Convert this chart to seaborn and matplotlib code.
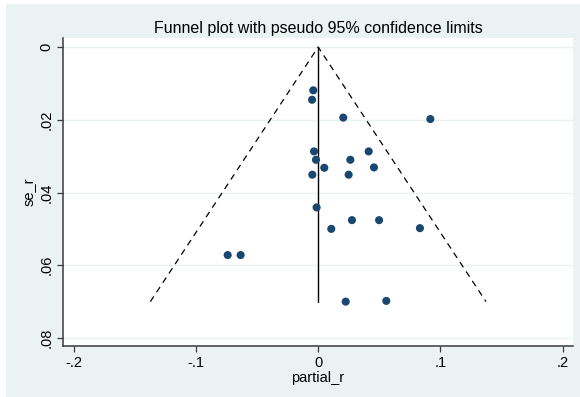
import matplotlib
matplotlib.use("Agg")
import matplotlib.pyplot as plt
from matplotlib.patches import Rectangle
import numpy as np
import pandas as pd
import seaborn as sns

# Study-level effect sizes (partial correlations) and their standard errors
partial_r = [-0.0040, -0.0050, 0.0205, 0.0917, -0.0034, 0.0413, -0.0018, 0.0263,
             0.0050, 0.0456, -0.0048, 0.0249, -0.0013, 0.0276, 0.0498, 0.0107,
             0.0832, -0.0740, -0.0634, 0.0225, 0.0557]
se_r = [0.0119, 0.0145, 0.0194, 0.0198, 0.0287, 0.0287, 0.0310, 0.0310,
        0.0332, 0.0331, 0.0351, 0.0351, 0.0441, 0.0476, 0.0476, 0.0500,
        0.0498, 0.0572, 0.0572, 0.0700, 0.0698]

x_ticks = [-0.2, -0.1, 0.0, 0.1, 0.2]
x_tick_labels = ["-.2", "-.1", "0", ".1", ".2"]
y_ticks = [0.0, 0.02, 0.04, 0.06, 0.08]
y_tick_labels = ["0", ".02", ".04", ".06", ".08"]

center = 0.0
z = 1.96

df = pd.DataFrame({"partial_r": partial_r, "se_r": se_r})

# pseudo 95% confidence limits
se_max = max(se_r)
funnel = pd.DataFrame({
    "x": [center - z * se_max, center, center + z * se_max],
    "y": [se_max, 0.0, se_max],
})
mid = pd.DataFrame({"x": [center, center], "y": [0.0, se_max]})

sns.set_theme(style="white")
plt.rcParams["font.family"] = ["Liberation Sans", "DejaVu Sans"]

bg = "#EAF2F3"
axis_col = "#3a3a3a"

fig = plt.figure(figsize=(5.8, 3.97), dpi=100, facecolor="white")
fig.patches.append(Rectangle((6 / 580, 0), 1 - 6 / 580, 1 - 4 / 397,
                             transform=fig.transFigure, facecolor=bg,
                             edgecolor="none", zorder=-5))

ax = fig.add_axes([63.3 / 580, 1 - 346 / 397, (572.7 - 63.3) / 580, (346 - 38.3) / 397])
ax.set_zorder(1)
ax.set_facecolor("white")

for yt in y_ticks:
    ax.axhline(yt, color=bg, lw=1.0, zorder=0)

sns.lineplot(data=funnel, x="x", y="y", ax=ax, color="black", lw=0.9,
             sort=False, estimator=None, linestyle=(0, (5, 4)))
sns.lineplot(data=mid, x="x", y="y", ax=ax, color="black", lw=1.0,
             sort=False, estimator=None)
sns.scatterplot(data=df, x="partial_r", y="se_r", ax=ax, color="#1a476f",
                s=34, edgecolor="none", zorder=3)

ax.set_xlim(-0.2084, 0.2081)
ax.set_ylim(0.0822, -0.0024)
ax.set_xticks(x_ticks)
ax.set_xticklabels(x_tick_labels)
ax.set_yticks(y_ticks)
ax.set_yticklabels(y_tick_labels, rotation=90, va="center")

for side in ("top", "right"):
    ax.spines[side].set_visible(False)
for side in ("left", "bottom"):
    ax.spines[side].set_color(axis_col)
    ax.spines[side].set_linewidth(1.1)

ax.tick_params(axis="both", which="major", direction="out", length=4.2,
               width=0.9, color=axis_col, labelsize=10.5, labelcolor="black",
               bottom=True, left=True, pad=3)

ax.set_xlabel("partial_r", fontsize=10.5, color="black", labelpad=1)
ax.set_ylabel("se_r", fontsize=10.5, color="black", labelpad=2)
fig.text(318 / 580, 1 - 28 / 397, "Funnel plot with pseudo 95% confidence limits",
         ha="center", va="center", fontsize=11.5, color="black")

fig.savefig("out.png", dpi=100, facecolor="white")
